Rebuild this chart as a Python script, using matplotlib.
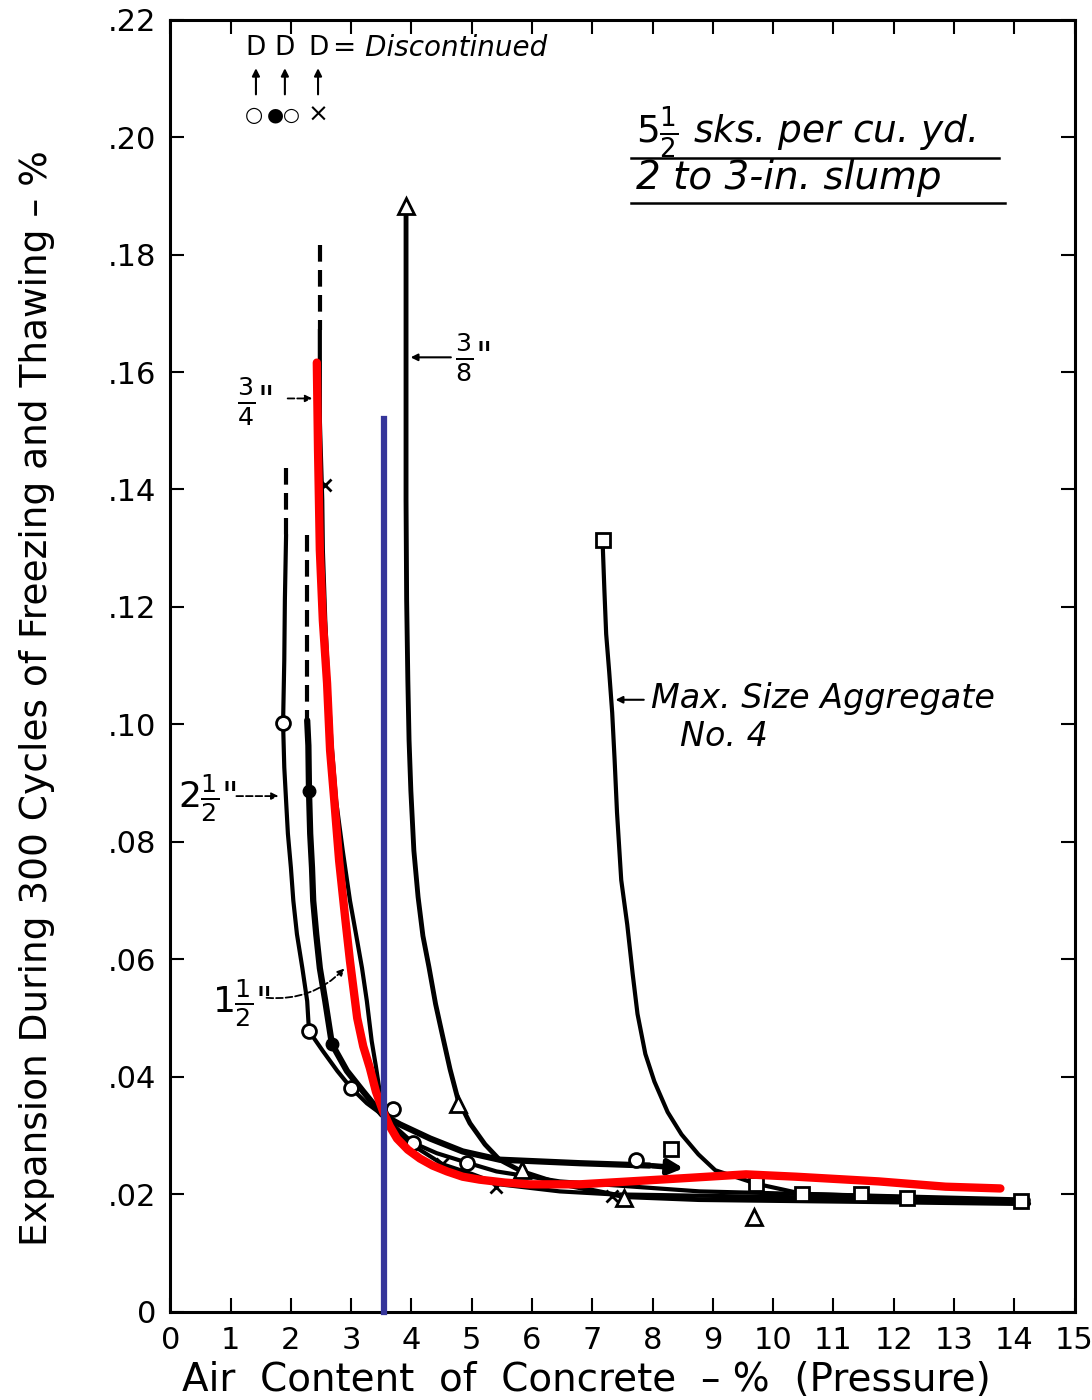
import matplotlib.pyplot as plt

# values (air content %, expansion %)
# 2 1/2 in. max size aggregate - open circles
x_25_dash = [1.92, 1.92]
y_25_dash = [0.1437, 0.1323]
x_25 = [1.92, 1.90, 1.89, 1.87, 1.89, 1.92, 1.95, 2.00, 2.04, 2.10, 2.19, 2.27, 2.30, 2.53, 2.77,
        3.00, 3.26, 3.51, 3.76, 4.02, 4.42, 4.92, 5.41, 6.46, 8.78, 14.24]
y_25 = [0.1323, 0.1212, 0.1109, 0.1002, 0.0927, 0.0870, 0.0814, 0.0756, 0.0700, 0.0643, 0.0585, 0.0529, 0.0478, 0.0444, 0.0410,
        0.0381, 0.0355, 0.0336, 0.0312, 0.0288, 0.0270, 0.0254, 0.0239, 0.0222, 0.0205, 0.0191]
x_25_pts = [1.87, 2.30, 3.00, 3.69, 4.02, 4.92, 7.73]
y_25_pts = [0.1002, 0.0478, 0.0381, 0.0346, 0.0288, 0.0254, 0.0259]

# 1 1/2 in. - filled circles
x_15_dash = [2.27, 2.27]
y_15_dash = [0.1323, 0.1007]
x_15 = [2.27, 2.29, 2.30, 2.32, 2.35, 2.37, 2.42, 2.48, 2.57, 2.68, 2.93, 3.20, 3.51, 3.81, 4.31, 4.85, 5.46, 6.79, 7.95]
y_15 = [0.1007, 0.0964, 0.0887, 0.0814, 0.0756, 0.0700, 0.0643, 0.0585, 0.0529, 0.0456, 0.0410, 0.0375, 0.0336, 0.0319, 0.0295, 0.0273, 0.0259, 0.0253, 0.0249]
x_15_end = 8.56
y_15_end = 0.0244
x_15_pts = [2.30, 2.68]
y_15_pts = [0.0887, 0.0456]

# 3/4 in. - crosses
x_34_dash = [2.48, 2.48]
y_34_dash = [0.1817, 0.1672]
x_34 = [2.48, 2.48, 2.52, 2.53, 2.57, 2.62, 2.67, 2.75, 2.86, 2.98, 3.08, 3.18, 3.26, 3.34, 3.41, 3.46, 3.51,
        3.64, 3.92, 4.26, 4.52, 5.02, 5.46, 6.46, 7.33, 10.43, 14.24]
y_34 = [0.1672, 0.1519, 0.1382, 0.1297, 0.1177, 0.1070, 0.0973, 0.0870, 0.0785, 0.0700, 0.0643, 0.0585, 0.0529, 0.0461, 0.0418, 0.0384, 0.0353,
        0.0319, 0.0290, 0.0268, 0.0251, 0.0234, 0.0217, 0.0205, 0.0200, 0.0195, 0.0188]
x_34_pts = [2.57, 4.50, 5.40, 7.33]
y_34_pts = [0.1408, 0.0251, 0.0213, 0.0198]

# 3/8 in. - triangles
x_38 = [3.91, 3.91, 3.91, 3.91, 3.92, 3.94, 3.96, 3.99, 4.04, 4.11, 4.19, 4.29, 4.40, 4.52, 4.64, 4.77, 4.97, 5.22, 5.46, 5.83,
        6.46, 7.53, 8.77, 11.26, 14.24]
y_38 = [0.1882, 0.1724, 0.1553, 0.1382, 0.1212, 0.1075, 0.0973, 0.0887, 0.0785, 0.0706, 0.0640, 0.0587, 0.0524, 0.0468, 0.0413, 0.0362, 0.0321, 0.0285, 0.0259, 0.0239,
        0.0218, 0.0196, 0.0191, 0.0188, 0.0184]
x_38_pts = [3.91, 4.77, 5.83, 7.53, 9.69]
y_38_pts = [0.1882, 0.0353, 0.0242, 0.0193, 0.0162]

# No. 4 - squares
x_n4 = [7.17, 7.20, 7.23, 7.28, 7.33, 7.37, 7.41, 7.48, 7.58, 7.67, 7.75, 7.88, 8.03, 8.25, 8.48, 8.76, 9.04, 9.72, 10.48, 12.22, 14.12]
y_n4 = [0.1314, 0.1230, 0.1154, 0.1090, 0.1020, 0.0940, 0.0850, 0.0735, 0.0659, 0.0575, 0.0507, 0.0439, 0.0392, 0.0340, 0.0302, 0.0268, 0.0241, 0.0218, 0.0201, 0.0195, 0.0188]
x_n4_pts = [7.17, 8.31, 9.72, 10.48, 11.46, 12.22, 14.12]
y_n4_pts = [0.1314, 0.0278, 0.0218, 0.0201, 0.0201, 0.0193, 0.0188]

# red overlay curve and blue marker line
x_red = [2.43, 2.45, 2.48, 2.53, 2.60, 2.65, 2.72, 2.80, 2.90, 2.98, 3.10, 3.20, 3.31, 3.41, 3.53, 3.64, 3.76, 3.94,
         4.14, 4.35, 4.59, 4.85, 5.13, 5.55, 5.96, 6.79, 7.62, 8.44, 9.55, 10.38, 11.75, 12.86, 13.77]
y_red = [0.1616, 0.1468, 0.1297, 0.1177, 0.1070, 0.0956, 0.0870, 0.0768, 0.0671, 0.0597, 0.0500, 0.0452, 0.0415, 0.0375, 0.0341, 0.0316, 0.0295, 0.0276,
         0.0261, 0.0249, 0.0239, 0.0230, 0.0225, 0.0220, 0.0217, 0.0217, 0.0222, 0.0227, 0.0234, 0.0230, 0.0222, 0.0213, 0.0210]
x_blue = [3.54, 3.54]
y_blue = [0.152, 0.0]

x_ticks = list(range(16))
y_ticks = [0, 0.02, 0.04, 0.06, 0.08, 0.10, 0.12, 0.14, 0.16, 0.18, 0.20, 0.22]
y_tick_labels = ['0', '.02', '.04', '.06', '.08', '.10', '.12', '.14', '.16', '.18', '.20', '.22']

fig = plt.figure(figsize=(10.92, 14), dpi=100)
ax = fig.add_axes([0.156, 0.063, 0.828, 0.923])

lw = 3.0
ms = 10
round_line = dict(solid_joinstyle='round', solid_capstyle='round')
ax.plot(x_25_dash, y_25_dash, 'k', lw=lw, dashes=(4, 2))
ax.plot(x_25, y_25, 'k', lw=lw, **round_line)
ax.plot(x_15_dash, y_15_dash, 'k', lw=lw, dashes=(4, 2))
ax.plot(x_15, y_15, 'k', lw=lw + 1.5, **round_line)
ax.annotate('', xy=(x_15_end, y_15_end), xytext=(x_15[-1], y_15[-1]),
            arrowprops=dict(arrowstyle='-|>', color='k', lw=4, mutation_scale=22))
ax.plot(x_34_dash, y_34_dash, 'k', lw=lw, dashes=(4, 2))
ax.plot(x_34, y_34, 'k', lw=lw, **round_line)
ax.plot(x_38, y_38, 'k', lw=lw + 0.5, **round_line)
ax.plot(x_n4, y_n4, 'k', lw=lw, **round_line)

ax.plot(x_25_pts, y_25_pts, 'o', ms=ms, mfc='white', mec='k', mew=2)
ax.plot(x_15_pts, y_15_pts, 'o', ms=ms - 1, mfc='k', mec='k')
ax.plot(x_34_pts, y_34_pts, 'x', ms=ms - 1, mec='k', mew=2)
ax.plot(x_38_pts, y_38_pts, '^', ms=ms + 1, mfc='white', mec='k', mew=2)
ax.plot(x_n4_pts, y_n4_pts, 's', ms=ms, mfc='white', mec='k', mew=2)

ax.plot(x_red, y_red, color='#ff0000', lw=6, zorder=5, **round_line)
ax.plot(x_blue, y_blue, color='#35359a', lw=4.5, zorder=6, clip_on=False)

ax.set_xlim(0, 15)
ax.set_ylim(0, 0.22)
ax.set_xticks(x_ticks)
ax.set_yticks(y_ticks)
ax.set_yticklabels(y_tick_labels)
ax.tick_params(direction='in', length=10, width=1.5, top=True, right=True,
               labelsize=22, pad=10)
for s in ax.spines.values():
    s.set_linewidth(2.2)

ax.set_xlabel('Air  Content  of  Concrete  – %  (Pressure)', fontsize=28)
ax.set_ylabel('Expansion During 300 Cycles of Freezing and Thawing – %', fontsize=27)
ax.xaxis.set_label_coords(0.46, -0.038)
ax.yaxis.set_label_coords(-0.128, 0.475)

# curve labels
it = dict(fontsize=24, style='italic')
ax.text(1.41, 0.155, r'$\frac{3}{4}$"', fontsize=26, ha='center', va='center')
ax.annotate('', xy=(2.40, 0.1555), xytext=(1.90, 0.1555),
            arrowprops=dict(arrowstyle='-|>', color='k', lw=1.3, ls='--'))
ax.text(5.02, 0.1625, r'$\frac{3}{8}$"', fontsize=26, ha='center', va='center')
ax.annotate('', xy=(3.94, 0.1625), xytext=(4.70, 0.1625),
            arrowprops=dict(arrowstyle='-|>', color='k', lw=1.5))
ax.text(0.62, 0.0875, r'$2\frac{1}{2}$"', fontsize=26, ha='center', va='center')
ax.annotate('', xy=(1.84, 0.0878), xytext=(1.05, 0.0878),
            arrowprops=dict(arrowstyle='-|>', color='k', lw=1.3, ls='--'))
ax.text(1.18, 0.0525, r'$1\frac{1}{2}$"', fontsize=26, ha='center', va='center')
ax.annotate('', xy=(2.92, 0.0588), xytext=(1.55, 0.0535),
            arrowprops=dict(arrowstyle='-|>', color='k', lw=1.3, ls='--',
                            connectionstyle='arc3,rad=0.25'))
ax.text(7.98, 0.1045, 'Max. Size Aggregate', va='center', ha='left', **it)
ax.text(8.45, 0.0980, 'No. 4', va='center', ha='left', **it)
ax.annotate('', xy=(7.34, 0.1042), xytext=(7.90, 0.1042),
            arrowprops=dict(arrowstyle='-|>', color='k', lw=1.5))

# mix note
ax.text(7.72, 0.2008, r'$5\frac{1}{2}$ sks. per cu. yd.', fontsize=27, style='italic', va='center')
ax.text(7.72, 0.1930, '2 to 3-in. slump', fontsize=28, style='italic', va='center')
ax.plot([7.65, 13.75], [0.1965, 0.1965], 'k', lw=1.8)
ax.plot([7.65, 13.85], [0.1888, 0.1888], 'k', lw=1.8)

# discontinued key
for xd in [1.42, 1.90, 2.45]:
    ax.text(xd, 0.2152, 'D', fontsize=19, ha='center', va='center')
    ax.annotate('', xy=(xd, 0.2122), xytext=(xd, 0.2068),
                arrowprops=dict(arrowstyle='-|>', color='k', lw=1.5, mutation_scale=11))
ax.text(2.70, 0.2152, '= Discontinued', fontsize=20, style='italic', ha='left', va='center')
ax.text(1.38, 0.2038, '○', fontsize=15, ha='center', va='center')
ax.text(1.88, 0.2038, '●○', fontsize=14, ha='center', va='center')
ax.text(2.45, 0.2038, '×', fontsize=18, ha='center', va='center')

fig.savefig('out.png', dpi=100, facecolor='white')
